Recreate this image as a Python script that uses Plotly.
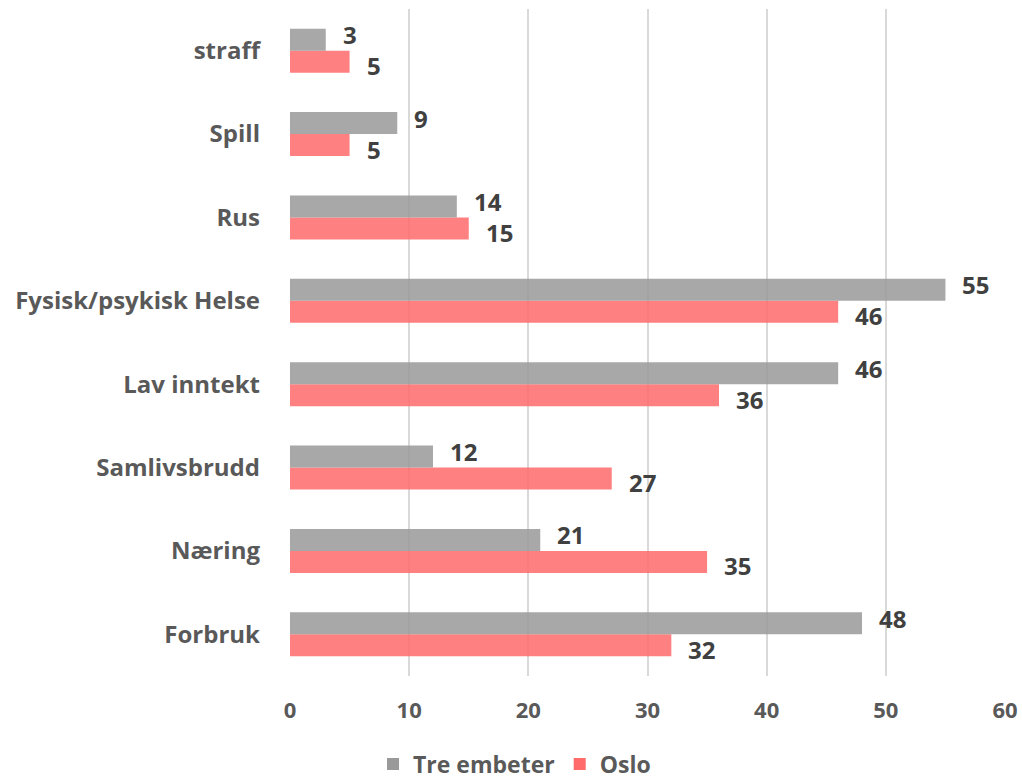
import plotly.graph_objects as go

categories = ["Forbruk", "Næring", "Samlivsbrudd", "Lav inntekt",
              "Fysisk/psykisk Helse", "Rus", "Spill", "straff"]
tre_embeter = [48, 21, 12, 46, 55, 14, 9, 3]
oslo = [32, 35, 27, 36, 46, 15, 5, 5]
x_ticks = [0, 10, 20, 30, 40, 50, 60]

FONT = "Open Sans, sans-serif"
LABEL_FONT = dict(family=FONT, size=24, color="#404040", weight="bold")

fig = go.Figure()
fig.add_trace(go.Bar(
    y=categories, x=oslo, name="Oslo", orientation="h",
    marker=dict(color="#FF6A6A", opacity=0.85, line=dict(width=0)),
))
fig.add_trace(go.Bar(
    y=categories, x=tre_embeter, name="Tre embeter", orientation="h",
    marker=dict(color="#999999", opacity=0.85, line=dict(width=0)),
))

# value labels (displaced like the original: grey slightly up, red slightly down)
for cat, v in zip(categories, tre_embeter):
    fig.add_annotation(x=v, y=cat, text=str(v), showarrow=False, xanchor="left",
                       yanchor="middle", xshift=15, yshift=16, font=LABEL_FONT)
for cat, v in zip(categories, oslo):
    fig.add_annotation(x=v, y=cat, text=str(v), showarrow=False, xanchor="left",
                       yanchor="middle", xshift=15, yshift=-15, font=LABEL_FONT)

fig.update_layout(
    width=1022, height=782,
    margin=dict(l=290, r=17, t=9, b=106),
    barmode="group", bargap=0.473, bargroupgap=0,
    plot_bgcolor="white", paper_bgcolor="white",
    font=dict(family=FONT, color="#595959"),
    showlegend=True,
    legend=dict(orientation="h", xref="container", x=0.365, xanchor="left",
                yref="container", y=0.0503, yanchor="top",
                traceorder="reversed",
                font=dict(family=FONT, size=23, color="#595959", weight="bold")),
    xaxis=dict(range=[0, 60], tickvals=x_ticks, showgrid=True, gridcolor="#D9D9D9",
               gridwidth=2, zeroline=False, showline=False, ticks="", automargin=False,
               tickfont=dict(family=FONT, size=22, color="#595959", weight="bold"),
               ticklabelstandoff=19),
    yaxis=dict(showgrid=False, zeroline=False, showline=False, ticks="", automargin=False,
               ticklabelstandoff=29,
               tickfont=dict(family=FONT, size=24, color="#595959", weight="bold")),
)

fig.write_html("out.html", config={"displayModeBar": False},
               post_script="document.body.style.margin='0px';")
